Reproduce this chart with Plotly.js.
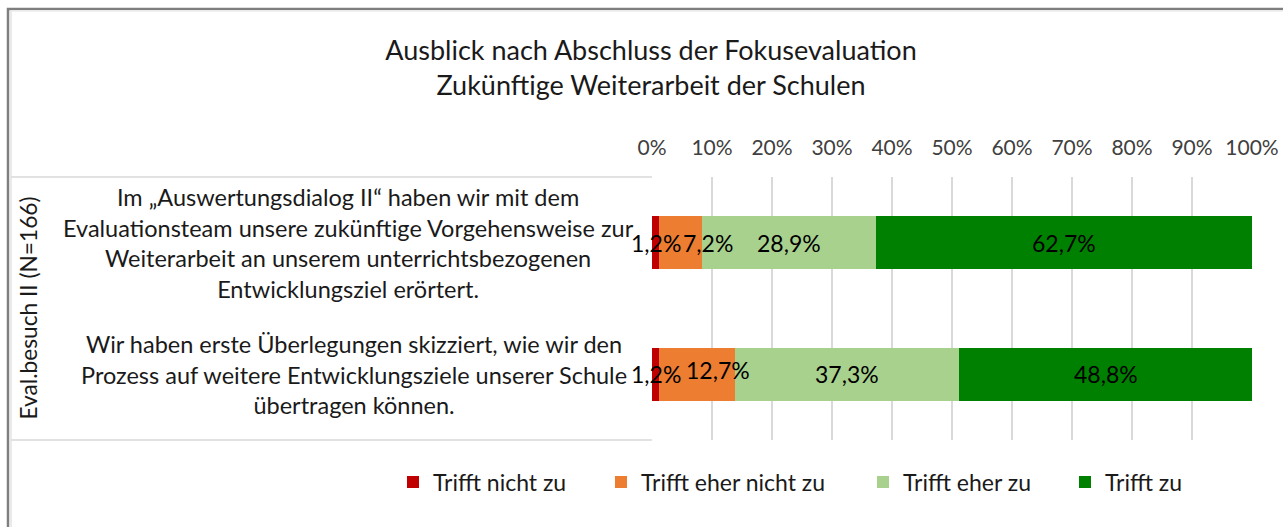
<!DOCTYPE html>
<html>
<head>
<meta charset="utf-8">
<script src="https://cdn.plot.ly/plotly-3.0.1.min.js"></script>
<style>html,body{margin:0;padding:0;background:#fff;}#chart{width:1283px;height:527px;}</style>
</head>
<body>
<div id="chart"></div>
<script>
// ---- Data ----
const categories = [
  'Im „Auswertungsdialog II“ haben wir mit dem<br>Evaluationsteam unsere zukünftige Vorgehensweise zur<br>Weiterarbeit an unserem unterrichtsbezogenen<br>Entwicklungsziel erörtert.',
  'Wir haben erste Überlegungen skizziert, wie wir den<br>Prozess auf weitere Entwicklungsziele unserer Schule<br>übertragen können.'
];
const seriesNames = ['Trifft nicht zu', 'Trifft eher nicht zu', 'Trifft eher zu', 'Trifft zu'];
const trifftNichtZu = [1.2, 1.2];
const trifftEherNichtZu = [7.2, 12.7];
const trifftEherZu = [28.9, 37.3];
const trifftZu = [62.7, 48.8];
const tickValues = [0, 10, 20, 30, 40, 50, 60, 70, 80, 90, 100];
const tickLabels = ['0%', '10%', '20%', '30%', '40%', '50%', '60%', '70%', '80%', '90%', '100%'];
const groupLabel = 'Eval.besuch II (N=166)';
const titleText = 'Ausblick nach Abschluss der Fokusevaluation<br>Zukünftige Weiterarbeit der Schulen';

// ---- Styling ----
const FONT = 'Lato, "Noto Sans", sans-serif';
const colors = ['#C00000', '#ED7D31', '#A9D18E', '#008000'];
const legendWidths = [163, 217, 157, 80];
// per-series, per-bar label nudges (px), mimicking the original label placement
const labelXShift = [[0, 0], [27, 21], [0, 0], [0, 0]];
const labelYShift = [[0, 0], [0, 4], [0, 0], [0, 0]];
const catCenterPx = [348, 354];
const W = 1283, H = 527;
const PL = 652, PR = 1252, PT = 177, PB = 440;
const px2x = p => (p - PL) / (PR - PL);
const py2y = p => (PB - p) / (PB - PT);

const allSeries = [trifftNichtZu, trifftEherNichtZu, trifftEherZu, trifftZu];
const fmt = v => v.toFixed(1).replace('.', ',') + '%';

const traces = allSeries.map((vals, i) => ({
  type: 'bar',
  orientation: 'h',
  name: seriesNames[i],
  y: categories,
  x: vals,
  marker: {color: colors[i], line: {width: 0}},
  legendwidth: legendWidths[i],
  hoverinfo: 'skip'
}));

const annotations = [];
// data labels at the middle of each stacked segment
categories.forEach((c, ci) => {
  let start = 0;
  allSeries.forEach((vals, si) => {
    const v = vals[ci];
    annotations.push({
      xref: 'x', yref: 'y',
      x: start + v / 2, y: c,
      xanchor: 'center', yanchor: 'middle',
      xshift: labelXShift[si][ci], yshift: labelYShift[si][ci],
      text: fmt(v),
      showarrow: false,
      font: {family: FONT, size: 23, color: '#000000'}
    });
    start += v;
  });
});
categories.forEach((c, ci) => annotations.push({
  xref: 'paper', yref: 'y',
  x: px2x(catCenterPx[ci]), y: c,
  xanchor: 'center', yanchor: 'middle',
  align: 'center',
  text: c,
  showarrow: false,
  font: {family: FONT, size: 23.5, color: '#1a1a1a'}
}));
annotations.push({
  xref: 'paper', yref: 'paper',
  x: px2x(28), y: 0.5,
  xanchor: 'center', yanchor: 'middle',
  textangle: -90,
  text: groupLabel,
  showarrow: false,
  font: {family: FONT, size: 22.7, color: '#1a1a1a'}
});

const lineGrey = '#d9d9d9';
const shapes = [
  // outer frame
  {type: 'rect', xref: 'paper', yref: 'paper', x0: px2x(8), x1: px2x(1400), y0: py2y(9), y1: py2y(700),
   line: {color: '#7f7f7f', width: 2.5}, fillcolor: 'rgba(0,0,0,0)', layer: 'below'},
  {type: 'line', xref: 'paper', yref: 'paper', x0: px2x(11), x1: px2x(11), y0: py2y(11), y1: py2y(700),
   line: {color: '#e3e3e3', width: 1.5}, layer: 'below'},
  {type: 'line', xref: 'paper', yref: 'paper', x0: px2x(11), x1: px2x(1400), y0: py2y(11), y1: py2y(11),
   line: {color: '#ececec', width: 1.5}, layer: 'below'},
  // category box
  {type: 'line', xref: 'paper', yref: 'paper', x0: px2x(11), x1: 0, y0: 1, y1: 1,
   line: {color: lineGrey, width: 1.3}, layer: 'below'},
  {type: 'line', xref: 'paper', yref: 'paper', x0: px2x(11), x1: 0, y0: 0, y1: 0,
   line: {color: lineGrey, width: 1.3}, layer: 'below'}
];

const layout = {
  width: W, height: H,
  margin: {l: PL, r: W - PR, t: PT, b: H - PB, pad: 0},
  paper_bgcolor: '#ffffff',
  plot_bgcolor: '#ffffff',
  barmode: 'stack',
  bargap: 0.6,
  showlegend: true,
  title: {
    text: titleText,
    xref: 'container', yref: 'container',
    x: 651 / W, xanchor: 'center',
    y: 1 - 60 / H, yanchor: 'middle',
    font: {family: FONT, size: 27, color: '#1a1a1a'}
  },
  xaxis: {
    side: 'top',
    range: [0, 100],
    tickmode: 'array',
    tickvals: tickValues,
    ticktext: tickLabels,
    showgrid: true,
    gridcolor: lineGrey,
    gridwidth: 1.3,
    zeroline: false,
    showline: false,
    ticks: 'outside',
    ticklen: 13,
    tickcolor: 'rgba(0,0,0,0)',
    tickfont: {family: FONT, size: 21, color: '#404040'},
    fixedrange: true
  },
  yaxis: {
    type: 'category',
    categoryorder: 'array',
    categoryarray: categories,
    autorange: 'reversed',
    showticklabels: false,
    showgrid: false,
    zeroline: false,
    showline: false,
    ticks: '',
    fixedrange: true
  },
  legend: {
    orientation: 'h',
    x: px2x(393), xanchor: 'left',
    y: py2y(482), yanchor: 'middle',
    traceorder: 'normal',
    bgcolor: 'rgba(0,0,0,0)',
    font: {family: FONT, size: 23, color: '#1a1a1a'}
  },
  annotations: annotations,
  shapes: shapes
};

Plotly.newPlot('chart', traces, layout, {displayModeBar: false, staticPlot: true});
</script>
</body>
</html>
